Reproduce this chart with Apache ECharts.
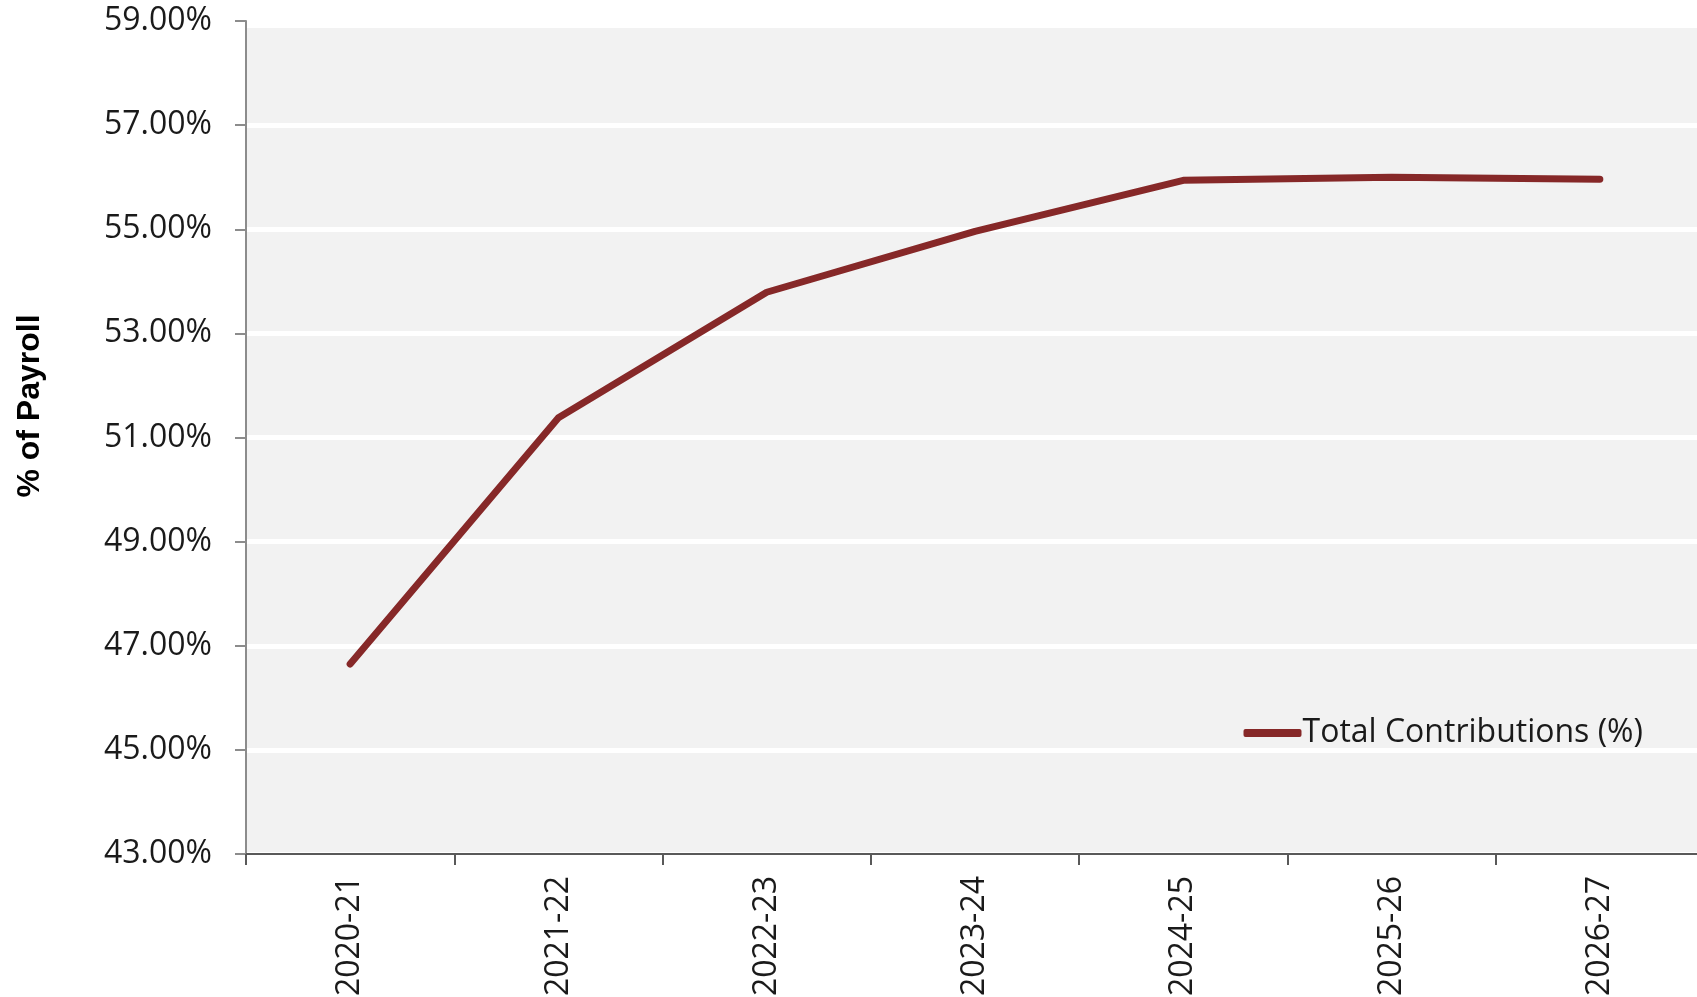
<!DOCTYPE html>
<html>
<head>
<meta charset="utf-8">
<script src="https://cdn.jsdelivr.net/npm/echarts@6/dist/echarts.min.js"></script>
<style>
html,body{margin:0;padding:0;background:#fff;}
#chart{width:1697px;height:997px;}
</style>
</head>
<body>
<div id="chart"></div>
<script>
const categories = ['2020-21','2021-22','2022-23','2023-24','2024-25','2025-26','2026-27'];
const totalContributions = [46.65, 51.38, 53.79, 54.96, 55.94, 56.00, 55.96];
const seriesName = 'Total Contributions (%)';
const axisTitle = '% of Payroll';

const chart = echarts.init(document.getElementById('chart'));
const labelFont = '"Open Sans", "Noto Sans", sans-serif';
chart.setOption({
  animation: false,
  graphic: [
    {
      type: 'rect', z: -10,
      shape: { x: 246, y: 28, width: 1470, height: 826, r: [0, 18, 0, 0] },
      style: { fill: '#f2f2f2' }
    },
    {
      type: 'text',
      x: 30, y: 406,
      rotation: Math.PI / 2,
      style: {
        text: axisTitle,
        font: 'bold 32px "Liberation Sans", Arial, sans-serif',
        fill: '#000',
        textAlign: 'center',
        textVerticalAlign: 'middle'
      }
    }
  ],
  grid: { left: 246, width: 1458, top: 21, height: 833, containLabel: false, outerBoundsMode: 'none' },
  legend: {
    right: 49, top: 712,
    itemWidth: 58, itemHeight: 8,
    icon: 'roundRect',
    itemGap: 0,
    textStyle: { fontFamily: labelFont, fontSize: 32, color: '#1a1a1a', padding: [0, 0, 0, -4] },
    data: [{ name: seriesName }]
  },
  xAxis: {
    type: 'category',
    data: categories,
    boundaryGap: true,
    axisLine: { lineStyle: { color: '#595959', width: 2 } },
    axisTick: { show: true, length: 11, lineStyle: { color: '#595959', width: 2 } },
    axisLabel: { rotate: 90, margin: 22, fontFamily: labelFont, fontSize: 32, color: '#1a1a1a' },
    splitLine: { show: false }
  },
  yAxis: {
    type: 'value',
    min: 43, max: 59, interval: 2,
    axisLine: { show: true, lineStyle: { color: '#8c8c8c', width: 2 } },
    axisTick: { show: true, length: 11, lineStyle: { color: '#8c8c8c', width: 2 } },
    axisLabel: {
      margin: 34, fontFamily: labelFont, fontSize: 32, color: '#1a1a1a',
      formatter: v => v.toFixed(2) + '%'
    },
    splitLine: { show: true, lineStyle: { color: '#ffffff', width: 5 } }
  },
  series: [{
    name: seriesName,
    type: 'line',
    data: totalContributions,
    showSymbol: false,
    symbol: 'none',
    itemStyle: { color: '#862828' },
    lineStyle: { color: '#862828', width: 7, cap: 'round', join: 'round' }
  }]
});
</script>
</body>
</html>
